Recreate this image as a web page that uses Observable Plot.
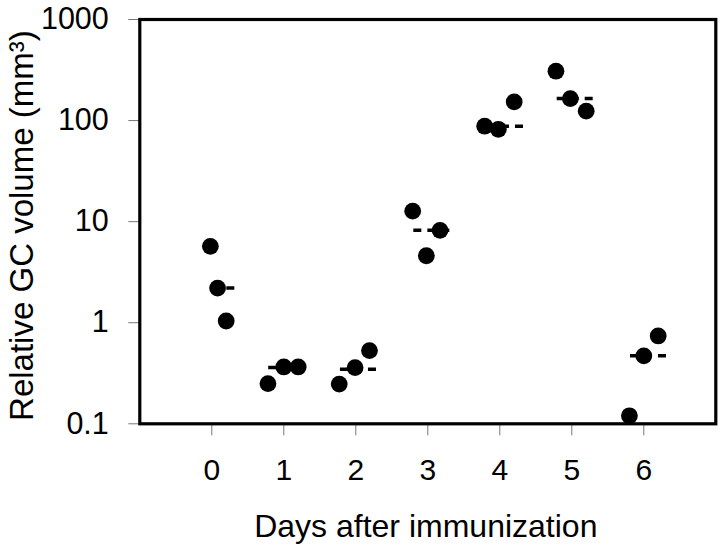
<!DOCTYPE html>
<html>
<head>
<meta charset="utf-8">
<script src="https://cdn.jsdelivr.net/npm/d3@7"></script>
<script src="https://cdn.jsdelivr.net/npm/@observablehq/plot@0.6"></script>
<style>
  html, body { margin: 0; padding: 0; background: #fff; }
  #chart svg { display: block; }
</style>
</head>
<body>
<div id="chart"></div>
<script>
// Individual measurements (day with small horizontal jitter, relative GC volume)
const days = [-0.02, 0.08, 0.2, 0.78, 1.0, 1.2, 1.77, 1.99, 2.19, 2.79, 2.98, 3.17, 3.79, 3.98, 4.2, 4.78, 4.98, 5.2, 5.8, 6.0, 6.2];
const volumes = [5.7, 2.2, 1.04, 0.25, 0.365, 0.365, 0.247, 0.36, 0.53, 12.7, 4.6, 8.2, 88, 82, 153, 308, 165, 124, 0.12, 0.47, 0.74];
// Mean markers (dash start day, dash end day, mean volume)
const meanStart = [0.014, 0.79, 1.787, 2.806, 3.829, 4.797, 5.815];
const meanEnd = [0.32, 1.29, 2.311, 3.306, 4.329, 5.319, 6.315];
const meanVolumes = [2.2, 0.36, 0.347, 8.2, 88, 165, 0.47];
// Axis ticks
const xTicks = [0, 1, 2, 3, 4, 5, 6];
const yTicks = [0.1, 1, 10, 100, 1000];
const yTickLabels = ["0.1", "1", "10", "100", "1000"];
const xLabel = "Days after immunization";
const yLabel = "Relative GC volume (mm³)";

const points = days.map((d, i) => ({day: d, volume: volumes[i]}));
const means = meanStart.map((d, i) => ({start: d, end: meanEnd[i], volume: meanVolumes[i]}));
const yLabels = yTicks.map((v, i) => ({value: v, label: yTickLabels[i]}));

const chart = Plot.plot({
  width: 720,
  height: 548,
  marginLeft: 139.3,
  marginRight: 4.7,
  marginTop: 19,
  marginBottom: 124.7,
  style: {fontFamily: "'Liberation Sans', Arial, Helvetica, sans-serif", fontSize: "30px", color: "black", background: "white"},
  x: {domain: [-1, 7]},
  y: {type: "log", domain: [0.1, 1000]},
  marks: [
    Plot.axisX({ticks: xTicks, tickSize: 12, tickPadding: 23, fontSize: 30, stroke: "#777", strokeWidth: 1, fill: "black", label: null, tickFormat: d => String(d)}),
    Plot.axisY({ticks: yTicks, tickSize: 11, tickPadding: 20, stroke: "#777", strokeWidth: 1, label: null, tickFormat: () => ""}),
    Plot.text(yLabels, {y: "value", text: "label", frameAnchor: "left", textAnchor: "end", lineAnchor: "middle", dx: -31, fontSize: 30.5, fill: "black"}),
    Plot.ruleY(means, {y: "volume", x1: "start", x2: "end", stroke: "black", strokeWidth: 3.5, strokeDasharray: "8,6"}),
    Plot.dot(points, {x: "day", y: "volume", r: 8.4, fill: "black", stroke: null}),
    Plot.frame({stroke: "black", strokeWidth: 3.2}),
    Plot.text([xLabel], {frameAnchor: "bottom", textAnchor: "middle", dx: -2, dy: 113, fontSize: 32, lineAnchor: "bottom", fill: "black"}),
    Plot.text([yLabel], {frameAnchor: "left", textAnchor: "middle", dx: -107, dy: 4, rotate: -90, fontSize: 33, lineAnchor: "bottom", fill: "black"})
  ]
});
document.getElementById("chart").appendChild(chart);
</script>
</body>
</html>
